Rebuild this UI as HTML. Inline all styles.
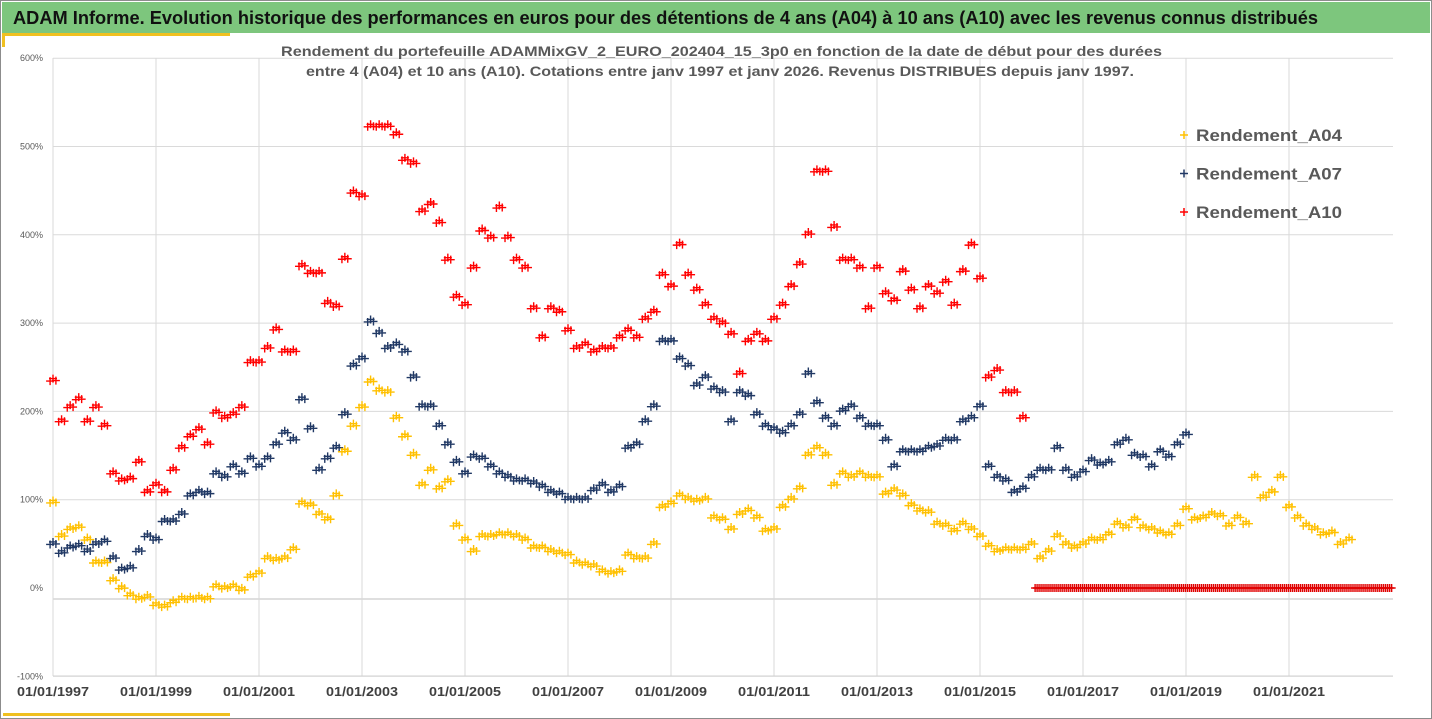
<!DOCTYPE html>
<html><head><meta charset="utf-8">
<style>
html,body{margin:0;padding:0;background:#fff;}
body{width:1432px;height:719px;overflow:hidden;position:relative;font-family:"Liberation Sans",sans-serif;}
svg{position:absolute;left:0;top:0;}
</style></head>
<body>
<svg id="chart" width="1432" height="719" viewBox="0 0 1432 719" xmlns="http://www.w3.org/2000/svg">
  <rect x="0.5" y="0.5" width="1431" height="718" fill="#fff" stroke="#8c8c8c"/>
  <rect x="2" y="2" width="1428" height="31" fill="#7DC67D"/>
  <text x="13" y="24" font-size="18" font-weight="bold" fill="#111" textLength="1305" lengthAdjust="spacingAndGlyphs">ADAM Informe. Evolution historique des performances en euros pour des détentions de 4 ans (A04) à 10 ans (A10) avec les revenus connus distribués</text>
  <rect x="2" y="33" width="228" height="3" fill="#F0C020"/>
  <rect x="2" y="33" width="3" height="14" fill="#F0C020"/>
  <rect x="3" y="713" width="227" height="3" fill="#F0C020"/>
  <g id="grid"></g>
  <text x="281" y="56" font-size="14" font-weight="bold" fill="#595959" textLength="881" lengthAdjust="spacingAndGlyphs">Rendement du portefeuille ADAMMixGV_2_EURO_202404_15_3p0 en fonction de la date de début pour des durées</text>
  <text x="306" y="76" font-size="14" font-weight="bold" fill="#595959" textLength="828" lengthAdjust="spacingAndGlyphs">entre 4 (A04) et 10 ans (A10). Cotations entre janv 1997 et janv 2026. Revenus DISTRIBUES depuis janv 1997.</text>
  <g id="series"></g>
  <g id="legend"></g>
</svg>
<script>
const yTicks = [600, 500, 400, 300, 200, 100, 0, -100];
const yTickLabels = ["600%", "500%", "400%", "300%", "200%", "100%", "0%", "-100%"];
const xTickYears = [1997, 1999, 2001, 2003, 2005, 2007, 2009, 2011, 2013, 2015, 2017, 2019, 2021];
const xTickLabels = ["01/01/1997","01/01/1999","01/01/2001","01/01/2003","01/01/2005","01/01/2007","01/01/2009","01/01/2011","01/01/2013","01/01/2015","01/01/2017","01/01/2019","01/01/2021"];
const seriesNames = ["Rendement_A04", "Rendement_A07", "Rendement_A10"];
const a04Start = 1997, a07Start = 1997, a10Start = 1997, stepMain = 1/6;
const a04Values = [98,60,68,70,56,30, 30,10,1,-7,-11,-9, -18,-20,-15,-11,-11,-10, -11,3,1,3,-1,14, 18,35,33,35,45,97, 95,85,79,106,156,185, 206,235,225,223,194,173, 152,118,135,114,122,72, 56,43,60,60,62,62, 60,56,47,47,43,41, 39,30,28,26,20,18, 20,39,35,35,51,93, 97,106,102,100,102,81, 79,68,85,89,81,66, 68,93,102,114,152,160, 152,118,131,127,131,127, 127,108,112,106,95,89, 87,74,72,66,74,68, 60,49,43,45,45,45, 51,35,43,60,51,47, 51,56,56,62,74,70, 79,70,68,64,62,72, 91,79,81,85,83,72, 81,74,127,104,110,127, 93,81,72,68,62,64, 51,56];
const a07Values = [51,41,47,49,43,51, 54,35,22,24,43,60, 56,77,77,85,106,110, 108,131,127,139,131,148, 139,148,164,177,169,215, 182,135,148,160,198,253, 261,303,290,273,277,269, 240,207,207,185,164,144, 131,150,148,139,131,127, 123,123,120,116,110,108, 102,102,102,112,118,110, 116,160,164,190,207,281, 281,261,253,231,240,227, 223,190,223,219,198,185, 181,177,185,198,244,211, 194,185,202,207,194,185, 185,169,139,156,156,156, 160,162,169,169,190,194, 207,139,127,123,110,114, 127,135,135,160,135,127, 133,146,141,144,164,169, 152,150,139,156,150,164, 175];
const a10Values = [236,190,206,215,190,206, 185,131,123,125,144,110, 118,110,135,160,173,181, 164,200,194,198,206,257, 257,273,294,269,269,366, 358,358,324,320,374,449, 445,524,524,524,515,486, 482,428,436,415,373,331, 322,364,406,398,432,398, 373,364,318,285,318,314, 293,273,277,269,273,273, 285,293,285,306,314,356, 343,390,356,339,322,306, 301,289,244,281,289,281, 306,322,343,368,402,473, 473,410,373,373,364,318, 364,335,327,360,339,318, 343,335,348,322,360,390, 352,240,248,223,223,194];
const a10TailStart = 2016.07, a10TailStep = 1/26;
const a10TailValues = [0,0,0,0,0,0,0,0,0,0,0,0,0,0,0,0,0,0,0,0,0,0,0,0,0,0,0,0,0,0,0,0,0,0,0,0,0,0,0,0,0,0,0,0,0,0,0,0,0,0,0,0,0,0,0,0,0,0,0,0,0,0,0,0,0,0,0,0,0,0,0,0,0,0,0,0,0,0,0,0,0,0,0,0,0,0,0,0,0,0,0,0,0,0,0,0,0,0,0,0,0,0,0,0,0,0,0,0,0,0,0,0,0,0,0,0,0,0,0,0,0,0,0,0,0,0,0,0,0,0,0,0,0,0,0,0,0,0,0,0,0,0,0,0,0,0,0,0,0,0,0,0,0,0,0,0,0,0,0,0,0,0,0,0,0,0,0,0,0,0,0,0,0,0,0,0,0,0,0,0,0];

const NS = "http://www.w3.org/2000/svg";
function xScale(year){ return 53 + (year - 1997) * 51.5; }
function yScale(v){ return 588 - v * 0.883; }
function mk(tag, attrs, parent){ const e = document.createElementNS(NS, tag); for (const k in attrs) e.setAttribute(k, attrs[k]); parent.appendChild(e); return e; }

const grid = document.getElementById('grid');
yTicks.forEach((t, i) => {
  const ly = yScale(t);
  const gy = t === 0 ? 599 : ly;
  const line = mk('line', {x1: 53, x2: 1393, y1: gy, y2: gy, stroke: t === 0 ? '#bfbfbf' : '#dadada', 'stroke-width': 1}, grid);
  
  
  const lab = mk('text', {x: 43, y: ly + 3, 'text-anchor': 'end', 'font-size': 9, fill: '#595959'}, grid);
  lab.textContent = yTickLabels[i];
  
  
});
xTickYears.forEach((yr, i) => {
  const x = xScale(yr);
  const line = mk('line', {x1: x, x2: x, y1: 58, y2: 676, stroke: '#dadada', 'stroke-width': 1}, grid);
  
  
  const lab = mk('text', {x: x - 36, y: 696, 'font-size': 12.5, 'font-weight': 'bold', fill: '#404040', textLength: 72, lengthAdjust: 'spacingAndGlyphs'}, grid);
  lab.textContent = xTickLabels[i];
  
  
});
const base = mk('line', {x1: 53, x2: 1393, y1: 676, y2: 676, stroke: '#d0d0d0'}, grid);



const seriesG = document.getElementById('series');
function plus(x, y, color, g, dense){
  let d = '';
  const offs = dense ? [[-2.9, 1.5], [0, -1], [2.9, 1]] : [[0, 0]];
  offs.forEach(o => { d += `M${x+o[0]-4},${y+o[1]}h8M${x+o[0]},${y+o[1]-4}v8`; });
  const p = mk('path', {d: d, stroke: color, 'stroke-width': 1.4, fill: 'none'}, g);
  
  
}
function drawSeries(values, start, step, color, name, dense){
  const g = mk('g', {}, seriesG);
  
  
  values.forEach((v, i) => plus(xScale(start + i * step), yScale(v), color, g, dense));
}
drawSeries(a10Values, a10Start, stepMain, '#FF0000', 'series-a10', true);
drawSeries(a10TailValues, a10TailStart, a10TailStep, '#E00000', 'series-a10-tail', false);
drawSeries(a07Values, a07Start, stepMain, '#203864', 'series-a07', true);
drawSeries(a04Values, a04Start, stepMain, '#FFC000', 'series-a04', true);

const legend = document.getElementById('legend');
const legendColors = ['#FFC000', '#203864', '#FF0000'];
seriesNames.forEach((n, i) => {
  const y = 135 + i * 38.5;
  const g = mk('g', {}, legend);
  
  
  const p = mk('path', {d: `M1180,${y}h8M1184,${y-4}v8`, stroke: legendColors[i], 'stroke-width': 1.5}, g);
  
  
  const t = mk('text', {x: 1196, y: y + 6, 'font-size': 17, 'font-weight': 'bold', fill: '#595959', textLength: 146, lengthAdjust: 'spacingAndGlyphs'}, g);
  t.textContent = n;
  
  
});
</script>
</body></html>
